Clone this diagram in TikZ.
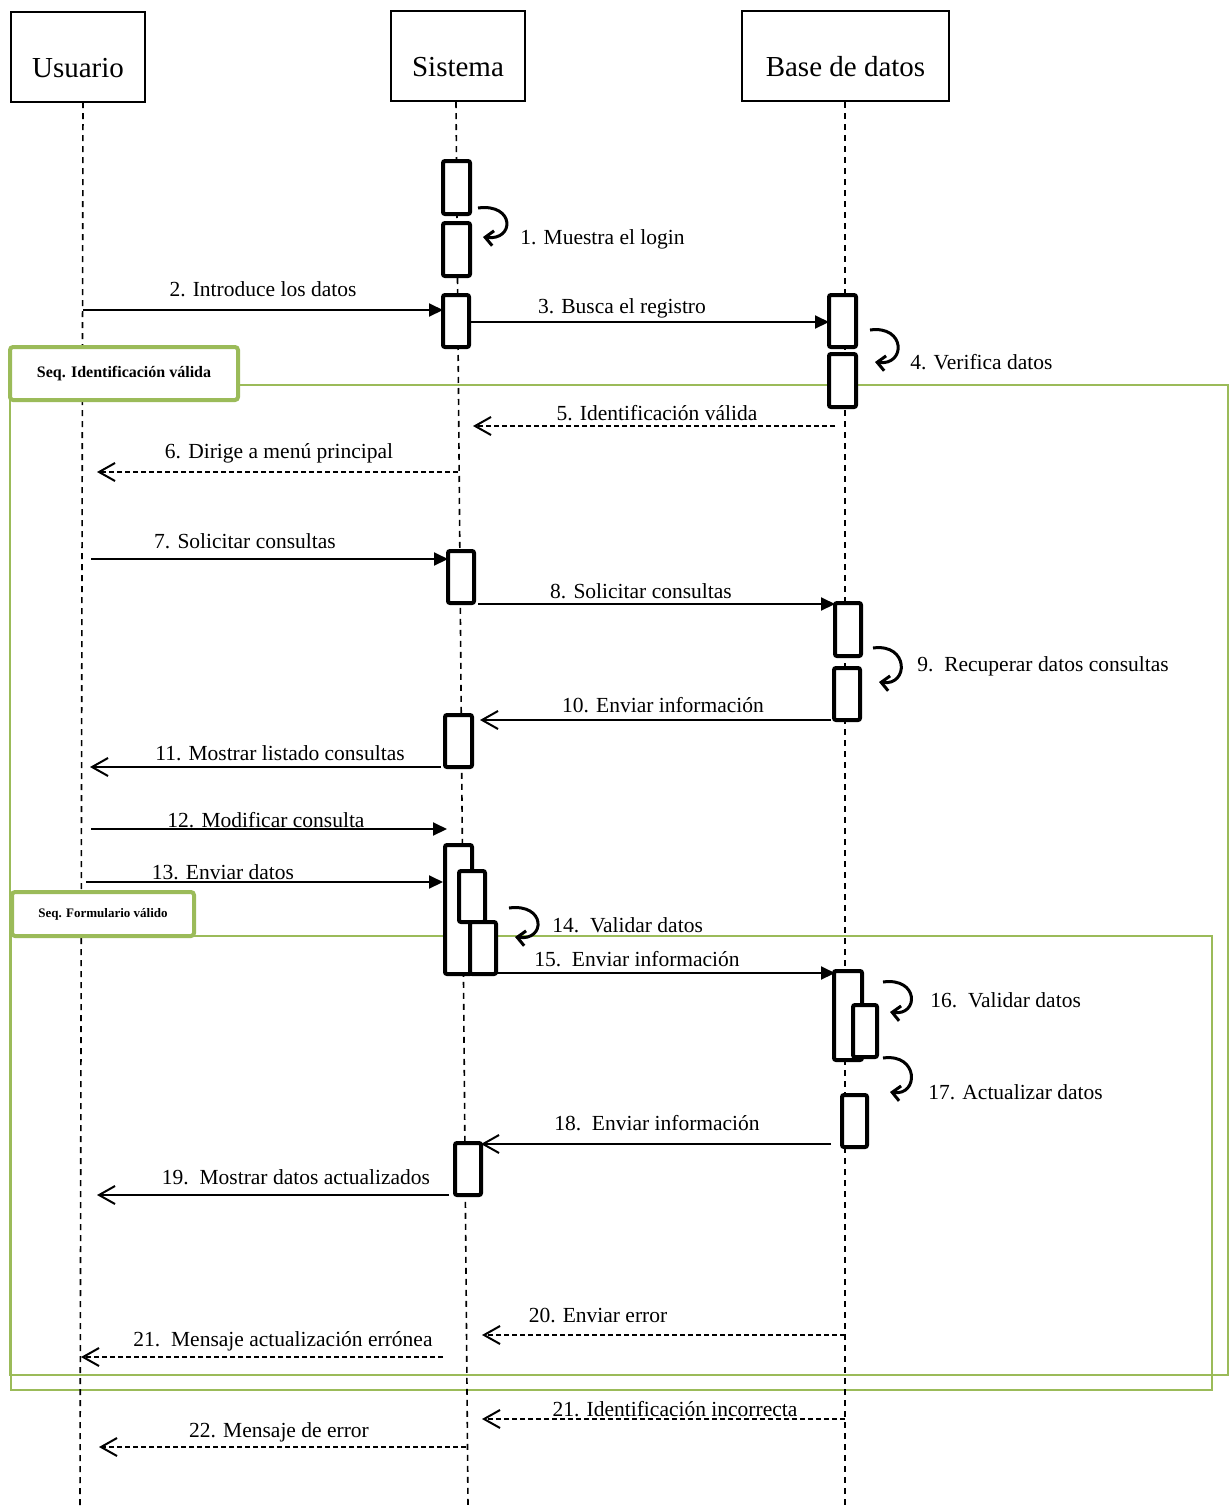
\documentclass[tikz,border=0pt]{standalone}
\usepackage{fontspec}
\setmainfont{Liberation Serif}
\usetikzlibrary{arrows.meta}
\definecolor{sgreen}{RGB}{155,187,89}
\tikzset{
  hdr/.style={draw, line width=0.75pt, inner sep=0pt, outer sep=0pt, minimum height=45pt, text height=20pt, text depth=0pt, font=\fontsize{14.5}{17}\selectfont},
  lifeln/.style={line width=0.8pt, dash pattern=on 3pt off 2.5pt},
  act/.style={draw, line width=2pt, fill=white, rounded corners=1pt, inner sep=0pt, outer sep=0pt},
  sync/.style={line width=1pt, -{Triangle[length=7pt,width=6.5pt]}},
  rep/.style={line width=1pt, -{Straight Barb[length=8pt,width=9pt,line width=1pt]}},
  dashrep/.style={rep, dash pattern=on 2.5pt off 1.5pt},
  selfarr/.style={line width=1.5pt, -{Straight Barb[length=4pt,width=7.5pt,line width=1.5pt]}},
  lbl/.style={inner sep=0pt, text height=0.7em, text depth=0pt, font=\fontsize{10.75}{13}\selectfont},
  frame/.style={draw=sgreen, line width=1pt},
  seqbox/.style={draw=sgreen, line width=2pt, fill=white, rounded corners=1.5pt, inner sep=0pt, font=\bfseries},
}
\newcommand\actb[5]{%
  \pgfmathsetmacro\aw{(#4-#2)*0.5}\pgfmathsetmacro\ah{(#5-#3)*0.5}%
  \node[act, minimum width=\aw pt, minimum height=\ah pt] (#1) at ({(#2+#4)/2},{(#3+#5)/2}) {};}
\newcommand\selfloop[6]{% name sx sy ex ey rx
  \coordinate (#1s) at (#2,#3); \coordinate (#1e) at (#4,#5);
  \draw[selfarr] (#1s) .. controls (#6,#3-5) and (#6,#5+4) .. (#1e);}
\begin{document}
\begin{tikzpicture}[x=0.5pt,y=-0.5pt]
\useasboundingbox (0,0) rectangle (1230,1506);
% frames
\draw[frame] (10,385) rectangle (1228,1375);
\draw[frame] (11,936) rectangle (1212,1390);
% headers
\node[hdr, minimum width=67pt] (usr) at (78,57) {Usuario};
\node[hdr, minimum width=67pt] (sis) at (458,56) {Sistema};
\node[hdr, minimum width=103.5pt] (bd) at (845.5,56) {Base de datos};
% lifelines
\coordinate (usrTop) at (83,102); \coordinate (usrBot) at (80,1506);
\coordinate (sisTop) at (456,102); \coordinate (sisBot) at (468,1506);
\coordinate (bdTop) at (845,102); \coordinate (bdBot) at (845,1506);
\draw[lifeln] (usrTop) -- (usrBot);
\draw[lifeln] (sisTop) -- (sisBot);
\draw[lifeln] (bdTop) -- (bdBot);
% activation boxes
\actb{s1}{443}{161}{470}{214}
\actb{s2}{443}{223}{470}{276}
\actb{s3}{443}{295}{469}{347}
\actb{b1}{829}{295}{856}{347}
\actb{b2}{829}{354}{856}{407}
\actb{s4}{448}{551}{474}{603}
\actb{b3}{835}{603}{861}{656}
\actb{b4}{834}{668}{860}{720}
\actb{s5}{445}{715}{472}{767}
\actb{s6}{445}{845}{472}{974}
\actb{s7}{459}{871}{485}{922}
\actb{s8}{470}{922}{496}{974}
\actb{b5}{834}{971}{862}{1060}
\actb{b6}{853}{1005}{877}{1057}
\actb{b7}{842}{1095}{867}{1147}
\actb{s9}{455}{1143}{481}{1195}
% coordinates for message ends
\coordinate (m2a) at (83,310);   \coordinate (m2b) at (443,310);
\coordinate (m3a) at (470,322);  \coordinate (m3b) at (829,322);
\coordinate (m5a) at (835,426);  \coordinate (m5b) at (473,426);
\coordinate (m6a) at (458,472);  \coordinate (m6b) at (97,472);
\coordinate (m7a) at (91,559);   \coordinate (m7b) at (448,559);
\coordinate (m8a) at (478,604);  \coordinate (m8b) at (835,604);
\coordinate (m10a) at (831,720); \coordinate (m10b) at (480,720);
\coordinate (m11a) at (441,767); \coordinate (m11b) at (90,767);
\coordinate (m12a) at (91,829);  \coordinate (m12b) at (447,829);
\coordinate (m13a) at (86,882);  \coordinate (m13b) at (443,882);
\coordinate (m15a) at (496,973); \coordinate (m15b) at (835,973);
\coordinate (m18a) at (831,1144);\coordinate (m18b) at (481,1144);
\coordinate (m19a) at (449,1195);\coordinate (m19b) at (97,1195);
\coordinate (m20a) at (845,1335);\coordinate (m20b) at (482,1335);
\coordinate (m21a) at (443,1357);\coordinate (m21b) at (81,1357);
\coordinate (m21ca) at (845,1419);\coordinate (m21cb) at (482,1419);
\coordinate (m22a) at (466,1447);\coordinate (m22b) at (99,1447);
% messages
\draw[sync] (m2a) -- (m2b);
\draw[sync] (m3a) -- (m3b);
\draw[dashrep] (m5a) -- (m5b);
\draw[dashrep] (m6a) -- (m6b);
\draw[sync] (m7a) -- (m7b);
\draw[sync] (m8a) -- (m8b);
\draw[rep] (m10a) -- (m10b);
\draw[rep] (m11a) -- (m11b);
\draw[sync] (m12a) -- (m12b);
\draw[sync] (m13a) -- (m13b);
\draw[sync] (m15a) -- (m15b);
\draw[rep] (m18a) -- (m18b);
\draw[rep] (m19a) -- (m19b);
\draw[dashrep] (m20a) -- (m20b);
\draw[dashrep] (m21a) -- (m21b);
\draw[dashrep] (m21ca) -- (m21cb);
\draw[dashrep] (m22a) -- (m22b);
% self messages
\selfloop{q1}{478}{208}{483}{237}{515}
\selfloop{q4}{870}{330}{875}{362}{906}
\selfloop{q9}{873}{648}{879}{682}{909}
\selfloop{q14}{509}{908}{515}{937}{546}
\selfloop{q16}{883}{982}{890}{1012}{919}
\selfloop{q17}{883}{1058}{890}{1092}{919}
% labels
\node[lbl, anchor=west] (l1) at (520,237) {1. Muestra el login};
\node[lbl] (l2) at (263,289) {2. Introduce los datos};
\node[lbl] (l3) at (622,306) {3. Busca el registro};
\node[lbl, anchor=west] (l4) at (910,362) {4. Verifica datos};
\node[lbl] (l5) at (657,413) {5. Identificación válida};
\node[lbl] (l6) at (279,451) {6. Dirige a menú principal};
\node[lbl] (l7) at (245,541) {7. Solicitar consultas};
\node[lbl] (l8) at (641,591) {8. Solicitar consultas};
\node[lbl, anchor=west] (l9) at (917,664) {9.\ \ Recuperar datos consultas};
\node[lbl] (l10) at (663,705) {10. Enviar información};
\node[lbl] (l11) at (280,753) {11. Mostrar listado consultas};
\node[lbl] (l12) at (266,820) {12. Modificar consulta};
\node[lbl] (l13) at (223,872) {13. Enviar datos};
\node[lbl, anchor=west] (l14) at (552,925) {14.\ \ Validar datos};
\node[lbl] (l15) at (637,959) {15.\ \ Enviar información};
\node[lbl, anchor=west] (l16) at (930,1000) {16.\ \ Validar datos};
\node[lbl, anchor=west] (l17) at (928,1092) {17. Actualizar datos};
\node[lbl] (l18) at (657,1123) {18.\ \ Enviar información};
\node[lbl] (l19) at (296,1177) {19.\ \ Mostrar datos actualizados};
\node[lbl] (l20) at (598,1315) {20. Enviar error};
\node[lbl] (l21) at (283,1339) {21.\ \ Mensaje actualización errónea};
\node[lbl] (l21c) at (675,1409) {21. Identificación incorrecta};
\node[lbl] (l22) at (279,1430) {22. Mensaje de error};
% sequence frame labels
\node[seqbox, minimum width=114pt, minimum height=26.5pt, font=\bfseries\fontsize{8}{10}\selectfont] (seq1) at (124,373.5) {Seq. Identificación válida};
\node[seqbox, minimum width=91pt, minimum height=22pt, font=\bfseries\fontsize{6.5}{8}\selectfont] (seq2) at (103,914) {Seq. Formulario válido};
\end{tikzpicture}
\end{document}
